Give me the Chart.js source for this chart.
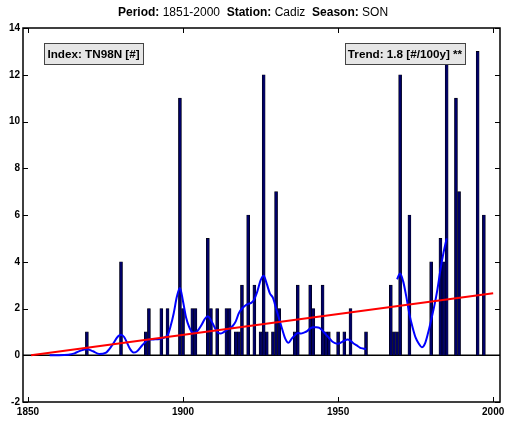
<!DOCTYPE html>
<html>
<head>
<meta charset="utf-8">
<script src="https://cdn.jsdelivr.net/npm/chart.js@4.4.0/dist/chart.umd.min.js"></script>
<style>
  html, body { margin: 0; padding: 0; background: #fff; }
  #wrap { width: 505px; height: 423px; }
</style>
</head>
<body>
<div id="wrap"><canvas id="chartTN98N"></canvas></div>
<script>
// yearly counts of TN98N (SON), only years with a non-zero count
var years  = [1869, 1880, 1888, 1889, 1893, 1895, 1899, 1900, 1903, 1904,
              1908, 1909, 1911, 1914, 1915, 1917, 1918, 1919, 1921, 1923,
              1925, 1926, 1927, 1929, 1930, 1931, 1936, 1937, 1941, 1942,
              1945, 1946, 1947, 1950, 1952, 1954, 1959, 1967, 1968, 1969,
              1970, 1973, 1980, 1983, 1984, 1985, 1988, 1989, 1995, 1997];
var counts = [1, 4, 1, 2, 2, 2, 11, 2, 2, 2,
              5, 2, 2, 2, 2, 1, 1, 3, 6, 3,
              1, 12, 1, 1, 7, 2, 1, 3, 3, 2,
              3, 1, 1, 1, 1, 2, 1, 3, 1, 1,
              12, 6, 4, 5, 4, 13, 11, 7, 13, 6];

// smoothed curve (two pieces, gap in the 1960s)
var smoothYears1 = [1857, 1860, 1863, 1865, 1867, 1869, 1871, 1873, 1875, 1877,
                    1879, 1880, 1881, 1883, 1884, 1885, 1887, 1889, 1891, 1893,
                    1895, 1896, 1897, 1898, 1899, 1900, 1901, 1902, 1903, 1904,
                    1905, 1906, 1907, 1908, 1909, 1910, 1911, 1912, 1913, 1914,
                    1915, 1916, 1917, 1918, 1919, 1920, 1921, 1922, 1923, 1924,
                    1925, 1926, 1927, 1928, 1929, 1930, 1931, 1932, 1933, 1934,
                    1935, 1936, 1937, 1938, 1939, 1940, 1941, 1942, 1943, 1944,
                    1945, 1946, 1947, 1948, 1949, 1950, 1951, 1952, 1953, 1954,
                    1955, 1956, 1957, 1958, 1959];
var smoothVals1  = [0, 0, 0.02, 0.08, 0.2, 0.26, 0.17, 0.05, 0.1, 0.4,
                    0.8, 0.88, 0.78, 0.25, 0.12, 0.15, 0.45, 0.67, 0.68, 0.72,
                    0.85, 1.25, 1.8, 2.5, 2.88, 2.3, 1.6, 1.2, 0.98, 0.97,
                    1.1, 1.3, 1.55, 1.67, 1.5, 1.24, 1.0, 0.93, 0.98, 1.07,
                    1.15, 1.25, 1.45, 1.8, 2.0, 2.12, 2.2, 2.24, 2.4, 2.75,
                    3.2, 3.4, 3.05, 2.65, 2.45, 2.0, 1.55, 1.1, 0.7, 0.53,
                    0.7, 0.85, 0.95, 0.93, 0.97, 1.03, 1.15, 1.2, 1.2, 1.17,
                    1.05, 0.9, 0.75, 0.6, 0.52, 0.49, 0.55, 0.62, 0.67, 0.62,
                    0.5, 0.42, 0.33, 0.29, 0.27];
var smoothYears2 = [1969, 1970, 1971, 1972, 1973, 1974, 1975, 1976, 1977, 1978,
                    1979, 1980, 1981, 1982, 1983, 1984, 1985];
var smoothVals2  = [3.25, 3.5, 3.15, 2.5, 1.75, 1.2, 0.75, 0.5, 0.34, 0.5,
                    0.95, 1.5, 2.1, 2.8, 3.66, 4.4, 5.0];

// linear trend, 1.8 per 100 years
var trendYears = [1851, 2000];
var trendVals  = [0.0, 2.65];

var xTicks = [1850, 1900, 1950, 2000];
var yTicks = [-2, 0, 2, 4, 6, 8, 10, 12, 14];

var titleParts = [
    ['Period: ', true], ['1851-2000', false], ['  Station: ', true],
    ['Cadiz', false], ['  Season: ', true], ['SON', false]
];
var indexLabel = 'Index: TN98N [#]';
var trendLabel = 'Trend: 1.8 [#/100y] **';

var FONT = '"Liberation Sans", Arial, Helvetica, sans-serif';

var smoothData = [];
smoothYears1.forEach(function (y, i) { smoothData.push({ x: y, y: smoothVals1[i] }); });
smoothData.push({ x: 1964, y: null });
smoothYears2.forEach(function (y, i) { smoothData.push({ x: y, y: smoothVals2[i] }); });

var matlabFrame = {
    id: 'matlabFrame',
    beforeDatasetsDraw: function (chart) {
        var ctx = chart.ctx, a = chart.chartArea, ys = chart.scales.y;
        var y0 = ys.getPixelForValue(0);
        ctx.save();
        ctx.strokeStyle = '#000';
        ctx.lineWidth = 1.5;
        ctx.beginPath();
        ctx.moveTo(a.left, y0);
        ctx.lineTo(a.right, y0);
        ctx.stroke();
        ctx.restore();
    },
    afterDatasetsDraw: function (chart) {
        var ctx = chart.ctx, a = chart.chartArea;
        var xs = chart.scales.x, ys = chart.scales.y;
        ctx.save();
        ctx.strokeStyle = '#000';
        ctx.lineWidth = 1.5;
        ctx.strokeRect(a.left, a.top, a.right - a.left, a.bottom - a.top);
        ctx.lineWidth = 1;
        ctx.beginPath();
        xTicks.forEach(function (t) {
            var px = Math.round(xs.getPixelForValue(t)) + 0.5;
            ctx.moveTo(px, a.bottom); ctx.lineTo(px, a.bottom - 5);
            ctx.moveTo(px, a.top); ctx.lineTo(px, a.top + 5);
        });
        yTicks.forEach(function (t) {
            var py = Math.round(ys.getPixelForValue(t)) + 0.5;
            ctx.moveTo(a.left, py); ctx.lineTo(a.left + 5, py);
            ctx.moveTo(a.right, py); ctx.lineTo(a.right - 5, py);
        });
        ctx.stroke();

        // label boxes
        function box(x, y, w, h, text) {
            ctx.fillStyle = '#e6e6e6';
            ctx.fillRect(x, y, w, h);
            ctx.strokeStyle = '#444';
            ctx.lineWidth = 1;
            ctx.strokeRect(x + 0.5, y + 0.5, w, h);
            ctx.fillStyle = '#000';
            ctx.font = 'bold 11.7px ' + FONT;
            ctx.textBaseline = 'middle';
            ctx.textAlign = 'center';
            ctx.fillText(text, x + w / 2, y + h / 2 + 1);
        }
        box(44, 43, 99, 21, indexLabel);
        box(345, 43, 120, 21, trendLabel);

        // title with bold and plain pieces
        var total = 0;
        titleParts.forEach(function (p) {
            ctx.font = (p[1] ? 'bold ' : '') + '12px ' + FONT;
            total += ctx.measureText(p[0]).width;
        });
        var x = 253 - total / 2;
        ctx.textAlign = 'left';
        ctx.textBaseline = 'middle';
        ctx.fillStyle = '#000';
        titleParts.forEach(function (p) {
            ctx.font = (p[1] ? 'bold ' : '') + '12px ' + FONT;
            ctx.fillText(p[0], x, 13);
            x += ctx.measureText(p[0]).width;
        });
        ctx.restore();
    }
};

var canvas = document.getElementById('chartTN98N');
var ctx = canvas.getContext('2d');
var myChart = new Chart(ctx, {
    type: 'bar',
    data: {
        datasets: [{
            type: 'line',
            label: 'trend',
            data: trendYears.map(function (y, i) { return { x: y, y: trendVals[i] }; }),
            borderColor: '#ff0000',
            borderWidth: 2,
            pointRadius: 0,
            order: 1
        }, {
            type: 'line',
            label: 'smoothed',
            data: smoothData,
            borderColor: '#0000ff',
            borderWidth: 2,
            pointRadius: 0,
            cubicInterpolationMode: 'monotone',
            spanGaps: false,
            order: 2
        }, {
            type: 'bar',
            label: 'TN98N',
            data: years.map(function (y, i) { return { x: y, y: counts[i] }; }),
            backgroundColor: '#000066',
            borderColor: '#000000',
            borderWidth: 0.6,
            barThickness: 3,
            order: 3
        }]
    },
    options: {
        responsive: true,
        maintainAspectRatio: false,
        animation: false,
        layout: { padding: { top: 28, right: 5, bottom: 0, left: 0 } },
        plugins: {
            legend: { display: false },
            tooltip: { enabled: false },
            title: { display: false }
        },
        scales: {
            x: {
                type: 'linear',
                min: 1848.4,
                max: 2002.2,
                offset: false,
                grid: { display: false, drawTicks: false },
                border: { display: false },
                afterBuildTicks: function (scale) {
                    scale.ticks = xTicks.map(function (v) { return { value: v }; });
                },
                afterFit: function (scale) {
                    scale.height = 21;
                    scale.paddingLeft = 0;
                    scale.paddingRight = 0;
                },
                ticks: {
                    color: '#000',
                    padding: 4,
                    maxRotation: 0,
                    autoSkip: false,
                    font: { family: FONT, size: 10, weight: 'bold' },
                    callback: function (v) { return String(v); }
                }
            },
            y: {
                min: -2,
                max: 14,
                grid: { display: false, drawTicks: false },
                border: { display: false },
                afterBuildTicks: function (scale) {
                    scale.ticks = yTicks.map(function (v) { return { value: v }; });
                },
                afterFit: function (scale) {
                    scale.width = 23;
                    scale.paddingTop = 0;
                    scale.paddingBottom = 0;
                },
                ticks: {
                    color: '#000',
                    padding: 3,
                    font: { family: FONT, size: 10, weight: 'bold' }
                }
            }
        }
    },
    plugins: [matlabFrame]
});
</script>
</body>
</html>
